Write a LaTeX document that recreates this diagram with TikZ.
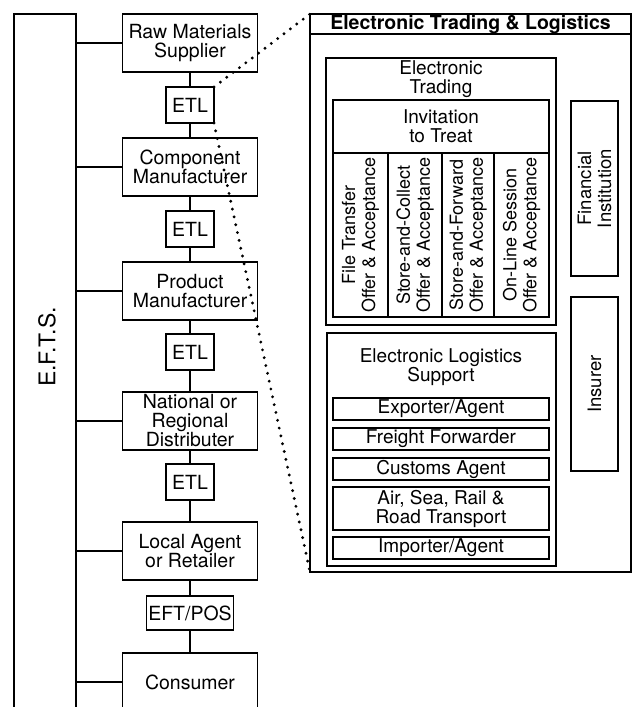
\documentclass[tikz,border=0pt]{standalone}
\usepackage{fontspec}
\setmainfont{TeX Gyre Heros}
\usetikzlibrary{positioning}

\begin{document}
\begin{tikzpicture}[
  x=1pt, y=-1pt,
  line width=1.6pt,
  node distance = 15pt,
  every node/.style={outer sep=0pt},
  % Define block styles
  stagebox/.style={
    draw,
    minimum width=135pt,
    minimum height=58pt,
    inner sep=1pt,
    align=center,
    font=\fontsize{19.5}{19}\selectfont
  },
  etlbox/.style={
    draw,
    minimum width=48pt,
    minimum height=36pt,
    inner sep=1pt,
    font=\fontsize{19.5}{19}\selectfont
  },
  sidebar/.style={
    draw,
    minimum width=62pt,
    minimum height=706pt
  },
  panelbox/.style={
    draw,
    inner sep=0pt
  },
  textblock/.style={
    align=center,
    inner sep=0pt,
    font=\fontsize{19}{19}\selectfont
  },
  methodblock/.style={
    draw,
    rotate=90,
    minimum width=164pt,
    inner sep=0pt,
    align=center,
    font=\fontsize{18}{20}\selectfont
  },
  partyblock/.style={
    draw,
    rotate=90,
    minimum height=47pt,
    inner sep=0pt,
    align=center,
    font=\fontsize{18.5}{20}\selectfont
  },
  itemblock/.style={
    draw,
    minimum width=216pt,
    minimum height=22pt,
    inner sep=0pt,
    align=center,
    font=\fontsize{19}{19}\selectfont
  },
  % Lines style
  link/.style={
    line width=1.4pt
  },
  zoomline/.style={
    line width=3.2pt,
    dash pattern=on 0pt off 8pt,
    line cap=round
  }
]
\useasboundingbox (0,0) rectangle (632,707);
\clip (0,0) rectangle (632,707);

% -----------------------------------------------
% E.F.T.S. SIDEBAR
% -----------------------------------------------
\node[sidebar] (efts) at (45,367) {};
\node[rotate=90, font=\fontsize{23}{24}\selectfont] (eftsLabel) at (47,347) {E.F.T.S.};

% -----------------------------------------------
% SUPPLY CHAIN
% -----------------------------------------------
\node[stagebox] (raw) at (190,43) {Raw Materials\\Supplier};

\node[etlbox, below=of raw] (etlA) {ETL};

\node[stagebox, below=of etlA] (comp) {Component\\Manufacturer};

\node[etlbox, below=of comp] (etlB) {ETL};

\node[stagebox, below=of etlB] (prod) {Product\\Manufacturer};

\node[etlbox, below=14pt of prod] (etlC) {ETL};

\node[stagebox, below=22pt of etlC] (natl) {National or\\Regional\\Distributer};

\node[etlbox, below=14pt of natl] (etlD) {ETL};

\node[stagebox, below=22pt of etlD] (local) {Local Agent\\or Retailer};

\node[etlbox, minimum width=87pt, minimum height=34pt, below=16pt of local] (eftpos) {EFT/POS};

\node[stagebox, below=23pt of eftpos] (cons) {Consumer};

% -----------------------------------------------
% ELECTRONIC TRADING & LOGISTICS PANEL
% -----------------------------------------------
\node[panelbox, minimum width=321pt, minimum height=558pt] (panel) at (470.5,293) {};
\node[panelbox, minimum width=321pt, minimum height=20pt, anchor=north,
  font=\bfseries\fontsize{19.5}{20}\selectfont] (panelTitle) at (panel.north) {Electronic Trading \& Logistics};

% Electronic trading
\node[panelbox, minimum width=230pt, minimum height=267pt] (trading) at (441,191.5) {};
\node[textblock] (tradingTitle) at (441,79) {Electronic\\Trading};

\node[panelbox, textblock, minimum width=216pt, minimum height=53pt] (invite) at (441,126.5) {Invitation\\to Treat};

\node[methodblock, minimum height=55pt] (fileTransfer) at (360.5,235) {File Transfer\\Offer \& Acceptance};
\node[methodblock, minimum height=54pt] (storeCollect) at (415,235) {Store-and-Collect\\Offer \& Acceptance};
\node[methodblock, minimum height=52pt] (storeForward) at (468,235) {Store-and-Forward\\Offer \& Acceptance};
\node[methodblock, minimum height=55pt] (onLine) at (521.5,235) {On-Line Session\\Offer \& Acceptance};

% Other parties
\node[partyblock, minimum width=175pt] (finance) at (594.5,188.5) {Financial\\Institution};
\node[partyblock, minimum width=174pt] (insurer) at (594.5,384) {Insurer};

% Electronic logistics
\node[panelbox, minimum width=229pt, minimum height=233pt] (logistics) at (441.5,449.5) {};
\node[textblock] (logisticsTitle) at (441,367) {Electronic Logistics\\Support};

\node[itemblock] (exporter) at (441,409) {Exporter/Agent};
\node[itemblock, below=8pt of exporter] (freight) {Freight Forwarder};
\node[itemblock, below=8pt of freight] (customs) {Customs Agent};
\node[itemblock, minimum height=43pt, below=7pt of customs] (transport) {Air, Sea, Rail \&\\Road Transport};
\node[itemblock, below=7pt of transport] (importer) {Importer/Agent};

% -----------------------------------------------
% CONNECTIONS
% -----------------------------------------------

% Chain
\draw[link] (raw) -- (etlA);
\draw[link] (etlA) -- (comp);
\draw[link] (comp) -- (etlB);
\draw[link] (etlB) -- (prod);
\draw[link] (prod) -- (etlC);
\draw[link] (etlC) -- (natl);
\draw[link] (natl) -- (etlD);
\draw[link] (etlD) -- (local);
\draw[link] (local) -- (eftpos);
\draw[link] (eftpos) -- (cons);

% Sidebar to each stage
\draw[link] (efts.east |- raw.west) -- (raw.west);
\draw[link] (efts.east |- comp.west) -- (comp.west);
\draw[link] (efts.east |- prod.west) -- (prod.west);
\draw[link] (efts.east |- natl.west) -- (natl.west);
\draw[link] (efts.east |- local.west) -- (local.west);
\draw[link] (efts.east |- cons.west) -- (cons.west);

% Zoom from the first ETL to the panel
\draw[zoomline] (etlA.north east) -- (panel.north west);
\draw[zoomline] (etlA.south east) -- (panel.south west);

\end{tikzpicture}
\end{document}
